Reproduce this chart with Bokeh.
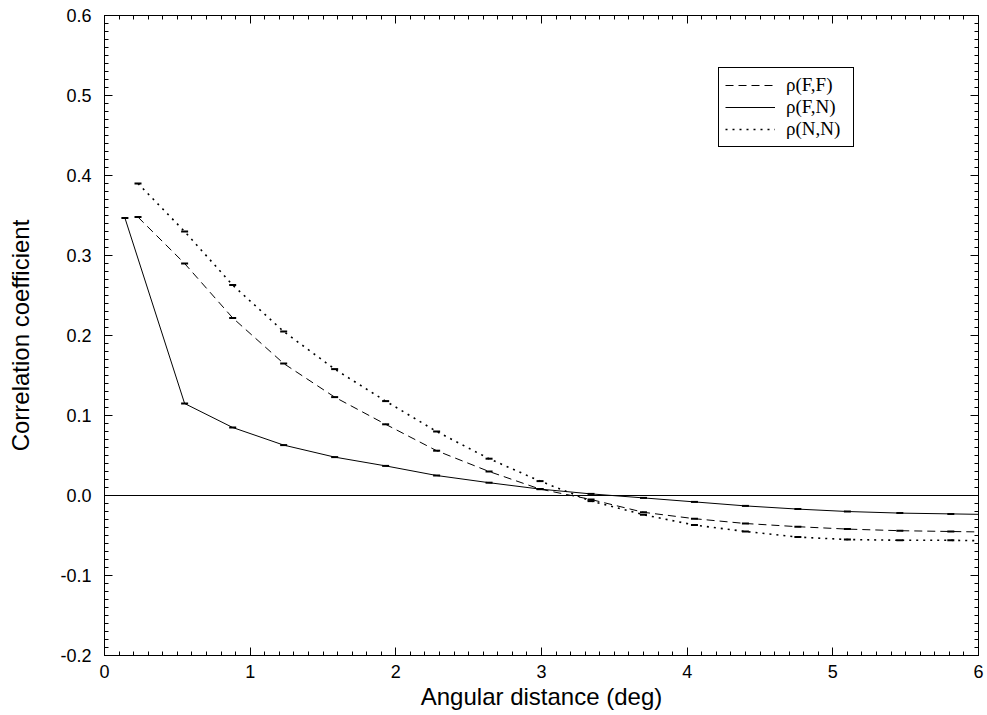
from bokeh.plotting import figure
from bokeh.models import (FixedTicker, LinearAxis, Span, Legend, LegendItem,
                          PrintfTickFormatter, CustomJSTickFormatter, Range1d)
from bokeh.embed import file_html
from bokeh.resources import INLINE

# Data
x_ff = [0.23, 0.55, 0.88, 1.23, 1.58, 1.93, 2.28, 2.64, 2.99, 3.34, 3.70, 4.05, 4.40, 4.76, 5.10, 5.46, 5.81, 6.16]
rho_ff = [0.348, 0.290, 0.222, 0.165, 0.123, 0.089, 0.056, 0.030, 0.008, -0.005, -0.021, -0.029, -0.035, -0.039, -0.042, -0.044, -0.045, -0.046]
x_nn = [0.23, 0.55, 0.88, 1.23, 1.58, 1.93, 2.28, 2.64, 2.99, 3.34, 3.70, 4.05, 4.40, 4.76, 5.10, 5.46, 5.81, 6.16]
rho_nn = [0.390, 0.330, 0.263, 0.205, 0.158, 0.118, 0.080, 0.046, 0.018, -0.007, -0.024, -0.037, -0.045, -0.052, -0.055, -0.056, -0.056, -0.057]
x_fn = [0.14, 0.55, 0.88, 1.23, 1.58, 1.93, 2.28, 2.64, 2.99, 3.34, 3.70, 4.05, 4.40, 4.76, 5.10, 5.46, 5.81, 6.16]
rho_fn = [0.347, 0.115, 0.085, 0.063, 0.048, 0.037, 0.025, 0.016, 0.008, 0.002, -0.003, -0.008, -0.013, -0.017, -0.020, -0.022, -0.023, -0.024]
labels = ["\u03c1(F,F)", "\u03c1(F,N)", "\u03c1(N,N)"]
x_ticks = [0, 1, 2, 3, 4, 5, 6]
y_ticks = [-0.2, -0.1, 0.0, 0.1, 0.2, 0.3, 0.4, 0.5, 0.6]

SANS = "Liberation Sans"
SERIF = "Liberation Serif"

x_minor = [round(i * 0.1, 2) for i in range(0, 61)]
y_minor = [round(-0.2 + i * 0.01, 3) for i in range(0, 81)]

p = figure(width=987, height=715, output_backend="svg", toolbar_location=None,
           x_range=Range1d(0, 6), y_range=Range1d(-0.2, 0.6),
           min_border_left=104, min_border_right=9, min_border_top=15, min_border_bottom=60,
           x_axis_label="Angular distance (deg)", y_axis_label="Correlation coefficient")
p.grid.visible = False
p.outline_line_color = "black"
p.outline_line_width = 1
p.background_fill_color = "white"
p.border_fill_color = "white"

p.xaxis.ticker = FixedTicker(ticks=x_ticks, minor_ticks=x_minor)
p.yaxis.ticker = FixedTicker(ticks=y_ticks, minor_ticks=y_minor)
p.yaxis.formatter = PrintfTickFormatter(format="%.1f")
p.xaxis.formatter = PrintfTickFormatter(format="%d")

for ax in [p.xaxis[0], p.yaxis[0]]:
    ax.major_tick_in = 8
    ax.major_tick_out = 0
    ax.minor_tick_in = 4
    ax.minor_tick_out = 0
    ax.axis_line_color = "black"
    ax.major_tick_line_color = "black"
    ax.minor_tick_line_color = "black"
    ax.major_label_text_font = SANS
    ax.major_label_text_font_size = "18px"
    ax.major_label_text_color = "black"
    ax.axis_label_text_font = SANS
    ax.axis_label_text_font_size = "24px"
    ax.axis_label_text_font_style = "normal"
    ax.axis_label_text_color = "black"
p.xaxis.major_label_standoff = 9
p.xaxis.axis_label_standoff = 2
p.yaxis.major_label_standoff = 13
p.yaxis.axis_label_standoff = 23

# tick marks on top and right
blank = CustomJSTickFormatter(code="return ''")
for loc, tk in [("above", FixedTicker(ticks=x_ticks, minor_ticks=x_minor)),
                ("right", FixedTicker(ticks=y_ticks, minor_ticks=y_minor))]:
    ax = LinearAxis(ticker=tk, formatter=blank,
                    major_tick_in=8, major_tick_out=0, minor_tick_in=4, minor_tick_out=0,
                    major_label_standoff=0,
                    axis_line_color="black", major_tick_line_color="black",
                    minor_tick_line_color="black")
    p.add_layout(ax, loc)

p.add_layout(Span(location=0, dimension="width", line_color="black", line_width=1))

r_ff = p.line(x_ff, rho_ff, line_color="black", line_width=1, line_dash="8 5")
r_fn = p.line(x_fn, rho_fn, line_color="black", line_width=1)
r_nn = p.line(x_nn, rho_nn, line_color="black", line_width=1.6, line_dash="2 5")

for xs, ys in [(x_ff, rho_ff), (x_fn, rho_fn), (x_nn, rho_nn)]:
    p.scatter(xs, ys, marker="dash", size=7, line_color="black", line_width=2)

legend = Legend(items=[LegendItem(label=labels[0], renderers=[r_ff]),
                       LegendItem(label=labels[1], renderers=[r_fn]),
                       LegendItem(label=labels[2], renderers=[r_nn])],
                location=(614, 508), orientation="vertical",
                border_line_color="black", border_line_width=1, border_line_alpha=1,
                background_fill_color="white", background_fill_alpha=1,
                label_text_font=SERIF, label_text_font_size="19px", label_text_color="black",
                glyph_width=50, glyph_height=18, label_height=18, label_width=61,
                label_standoff=11, padding=6, spacing=0, margin=0)
p.add_layout(legend, "center")

open("out.html", "w").write(file_html(p, INLINE))
